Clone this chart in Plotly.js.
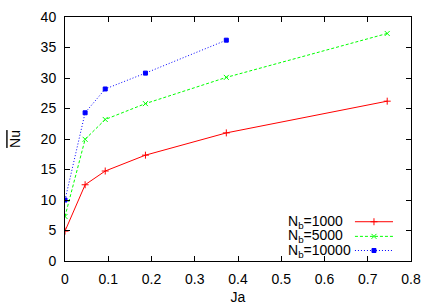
<!DOCTYPE html>
<html>
<head>
<meta charset="utf-8">
<script src="https://cdn.plot.ly/plotly-3.0.1.min.js"></script>
<style>html,body{margin:0;padding:0;background:#fff;}</style>
</head>
<body>
<div id="chart" style="width:436px;height:305px;"></div>
<script>
// Data
const ja = [0, 0.0465, 0.093, 0.186, 0.373, 0.745];
const nu1000 = [4.9, 12.5, 14.75, 17.35, 21.0, 26.2];
const nu5000 = [7.3, 19.95, 23.2, 25.8, 30.1, 37.3];
const ja10000 = [0, 0.0465, 0.093, 0.186, 0.373];
const nu10000 = [10.0, 24.3, 28.2, 30.8, 36.2];
const seriesNames = ["N<sub>b</sub>=1000", "N<sub>b</sub>=5000", "N<sub>b</sub>=10000"];
const xTicks = [0, 0.1, 0.2, 0.3, 0.4, 0.5, 0.6, 0.7, 0.8];
const yTicks = [0, 5, 10, 15, 20, 25, 30, 35, 40];

const colors = ["#ff0000", "#00ff00", "#0000ff"];
const dashes = ["solid", "3px,2px", "1px,2px"];
const symbols = ["cross-thin-open", "x-thin-open", "square"];
const msizes = [5, 5, 4];

const xs = [ja, ja, ja10000];
const ys = [nu1000, nu5000, nu10000];

const traces = [];
for (let i = 0; i < 3; i++) {
  traces.push({
    x: xs[i], y: ys[i], type: "scatter", mode: "lines+markers",
    name: seriesNames[i], showlegend: false,
    line: {color: colors[i], width: 1, dash: dashes[i]},
    marker: {color: colors[i], symbol: symbols[i], size: msizes[i], line: {color: colors[i], width: 1}}
  });
}

// Legend samples (gnuplot style: text then sample) on a hidden overlay axis 0..1
const legRowY = [0.161, 0.101, 0.043];
const legX0 = 0.838, legXm = 0.893, legX1 = 0.948, legTextX = 0.639;
const annotations = [];
for (let i = 0; i < 3; i++) {
  traces.push({
    x: [legX0, legX1], y: [legRowY[i], legRowY[i]], xaxis: "x2", yaxis: "y2",
    type: "scatter", mode: "lines", showlegend: false, hoverinfo: "skip",
    line: {color: colors[i], width: 1, dash: dashes[i]}
  });
  traces.push({
    x: [legXm], y: [legRowY[i]], xaxis: "x2", yaxis: "y2",
    type: "scatter", mode: "markers", showlegend: false, hoverinfo: "skip",
    marker: {color: colors[i], symbol: symbols[i], size: msizes[i], line: {color: colors[i], width: 1}}
  });
  annotations.push({
    text: seriesNames[i], xref: "paper", yref: "paper",
    x: legTextX, y: legRowY[i], xanchor: "left", yanchor: "middle",
    showarrow: false, font: {size: 14, color: "#000"}
  });
}

const fontFam = "Liberation Sans, Arial, Helvetica, sans-serif";
const layout = {
  width: 436, height: 305,
  margin: {l: 65, r: 25, t: 17, b: 44},
  paper_bgcolor: "#fff", plot_bgcolor: "#fff",
  font: {family: fontFam, size: 14, color: "#000"},
  showlegend: false,
  xaxis: {
    range: [0, 0.8], tickvals: xTicks, ticktext: xTicks.map(String),
    ticks: "inside", ticklen: 5, tickcolor: "#000", tickwidth: 1,
    showline: true, linecolor: "#000", linewidth: 1, mirror: "ticks",
    showgrid: false, zeroline: false,
    ticklabelstandoff: 5,
    title: {text: "Ja", font: {size: 14}, standoff: 6}
  },
  yaxis: {
    range: [0, 40], tickvals: yTicks, ticktext: yTicks.map(String),
    ticks: "inside", ticklen: 5, tickcolor: "#000", tickwidth: 1,
    showline: true, linecolor: "#000", linewidth: 1, mirror: "ticks",
    showgrid: false, zeroline: false,
    ticklabelstandoff: 5,
    title: {text: "<span style=\"text-decoration:overline\">Nu</span>", font: {size: 14}, standoff: 16}
  },
  xaxis2: {range: [0, 1], overlaying: "x", visible: false, fixedrange: true},
  yaxis2: {range: [0, 1], overlaying: "y", visible: false, fixedrange: true},
  annotations: annotations
};

Plotly.newPlot("chart", traces, layout, {staticPlot: true, displayModeBar: false});
</script>
</body>
</html>
